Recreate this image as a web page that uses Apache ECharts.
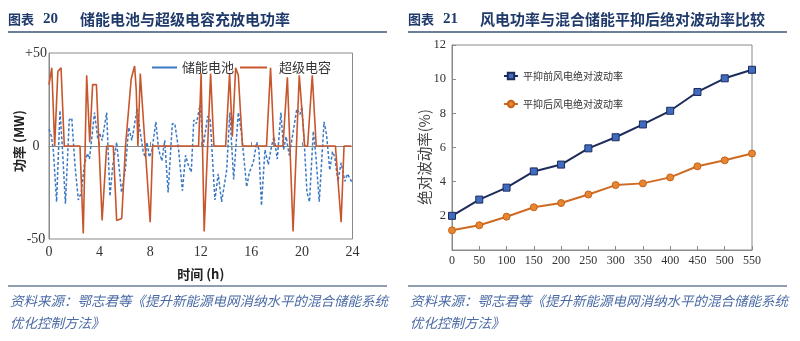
<!DOCTYPE html>
<html><head><meta charset="utf-8">
<script src="https://cdn.jsdelivr.net/npm/echarts@6/dist/echarts.min.js"></script>
<style>html,body{margin:0;padding:0;background:#fff}#c{width:800px;height:341px}</style>
</head><body><div id="c"></div>
<script>
// ---- Left chart data: hour, power (MW) ----
const batteryPower = [
  [0,9],[0.2,5],[0.35,-3],[0.6,-30],[0.87,19],[1.05,0],[1.3,-31],[1.6,14],[1.8,15],[2.05,-10],
  [2.32,-29],[2.55,-25],[2.8,-10],[3.03,-4],[3.2,-7],[3.6,18],[3.85,4],[4.0,7],[4.2,3],[4.56,18],
  [4.82,-27],[5.05,-10],[5.35,2],[5.74,-25],[6.05,-12],[6.3,10],[6.55,3],[6.97,20],[7.2,8],[7.45,-3],
  [7.6,-6],[7.75,2],[7.93,-6],[8.15,-2],[8.45,13],[8.67,-2],[8.93,-8],[9.15,3],[9.42,-25],[9.75,12],
  [9.95,12],[10.25,-2],[10.55,-24],[10.8,-5],[11.0,-10],[11.25,-14],[11.45,14],[11.65,12],[11.95,22],[12.2,0],
  [12.55,16],[12.75,14],[13.12,-29],[13.38,-15],[13.65,-30],[14.05,-13],[14.3,18],[14.6,-18],[14.97,18],[15.2,8],
  [15.35,-2],[15.63,-22],[15.85,-14],[16.15,-9],[16.42,2],[16.6,-2],[16.8,-32],[17.08,-2],[17.34,-10],[17.6,0],
  [17.79,5],[18.05,-7],[18.34,18],[18.55,-2],[18.75,5],[19.0,-5],[19.2,3],[19.6,20],[19.85,17],[20.0,21],
  [20.2,0],[20.4,-25],[20.6,-30],[20.9,8],[21.1,-5],[21.37,-30],[21.75,13],[21.95,6],[22.2,-13],[22.42,-3],
  [22.6,-6],[22.85,-19],[23.1,-9],[23.4,-19],[23.6,-15],[24,-20]
];
const supercapPower = [
  [0,33],[0.22,42],[0.45,0],[0.7,40],[0.95,42],[1.21,0],[2.45,0],[2.71,-47],[2.98,38],[3.22,2],
  [3.45,33],[3.75,33],[4.2,-40],[4.56,0],[5.08,0],[5.35,-40],[5.75,-39],[6.05,0],[6.5,36],[6.77,43],
  [6.9,30],[7.03,0],[7.22,39],[8.0,-41],[8.2,0],[11.83,0],[12.03,39],[12.27,-46],[12.78,39],[13.04,0],
  [13.97,0],[14.28,39],[14.5,5],[14.76,42],[14.97,38],[15.3,0],[17.2,0],[17.52,42],[17.8,0],[18.5,0],
  [18.85,37],[19.3,-46],[19.79,38],[20.22,0],[20.45,0],[20.82,38],[21.13,0],[22.65,0],[23.1,-41],[23.33,0],
  [23.9,0]
];
// ---- Right chart data ----
const windPower = [0,50,100,150,200,250,300,350,400,450,500,550];
const beforeRate = [2.0,2.95,3.65,4.6,5.0,5.95,6.6,7.35,8.15,9.25,10.05,10.55];
const afterRate  = [1.15,1.45,1.95,2.5,2.75,3.25,3.8,3.9,4.25,4.9,5.25,5.65];

const SERIF = "'Liberation Serif','Noto Sans CJK SC',serif";
const CJK = "'Noto Sans CJK SC',sans-serif";
const titleColor = '#1f3a6b';
const footColor = '#4a6aa5';
const footLine1 = '资料来源：鄂志君等《提升新能源电网消纳水平的混合储能系统';
const footLine2 = '优化控制方法》';

function textEl(x, y, txt, size, opts, rot) {
  return {type:'text', x:x, y:y, rotation:rot||0, style:Object.assign({text:txt, fontSize:size, fontFamily:CJK,
    fill:titleColor, verticalAlign:'middle', align:'left'}, opts||{})};
}
function lineEl(x1,y1,x2,y2,w,c){return {type:'line',shape:{x1,y1,x2,y2},style:{stroke:c,lineWidth:w}};}

const chart = echarts.init(document.getElementById('c'), null, {renderer:'canvas'});
chart.setOption({
  animation:false,
  backgroundColor:'#fff',
  graphic:[
    textEl(8,19,'图表',13,{fontWeight:'bold'}),
    textEl(43,19,'20',15,{fontWeight:'bold',fontFamily:SERIF}),
    textEl(80,19,'储能电池与超级电容充放电功率',15,{fontWeight:'bold'}),
    lineEl(8,32,387,32,2,'#6c7e98'),
    textEl(408,19,'图表',13,{fontWeight:'bold'}),
    textEl(443,19,'21',15,{fontWeight:'bold',fontFamily:SERIF}),
    textEl(480,19,'风电功率与混合储能平抑后绝对波动率比较',15,{fontWeight:'bold'}),
    lineEl(408,32,787,32,2,'#6c7e98'),
    lineEl(8,286,387,286,1.5,'#6c7e98'),
    lineEl(408,286,787,286,1.5,'#6c7e98'),
    textEl(10,301,footLine1,13.5,{fill:footColor,fontStyle:'italic'}),
    textEl(10,323,footLine2,13.5,{fill:footColor,fontStyle:'italic'}),
    textEl(410,301,footLine1,13.5,{fill:footColor,fontStyle:'italic'}),
    textEl(410,323,footLine2,13.5,{fill:footColor,fontStyle:'italic'}),
    textEl(19,141,'功率 (MW)',13,{fill:'#222',fontWeight:'bold',align:'center'},Math.PI/2),
    textEl(424,157,'绝对波动率(%)',14.5,{fill:'#444',align:'center'},Math.PI/2)
  ],
  grid:[
    {left:49, top:53, width:303.5, height:186, show:true, borderColor:'#8a8a8a', borderWidth:1},
    {left:452, top:45, width:300, height:205, show:true, borderColor:'#8a8a8a', borderWidth:1}
  ],
  legend:[
    {data:['储能电池'], left:147, top:56, icon:'rect', itemWidth:25, itemHeight:2,
     textStyle:{fontSize:13, color:'#333', fontFamily:CJK}},
    {data:['超级电容'], left:235, top:56, icon:'rect', itemWidth:27, itemHeight:2,
     textStyle:{fontSize:13, color:'#333', fontFamily:CJK, padding:[0,0,0,7]}},
    {data:['平抑前风电绝对波动率','平抑后风电绝对波动率'], orient:'vertical', left:498, top:66, itemGap:18,
     itemWidth:14, itemHeight:8, textStyle:{fontSize:10, color:'#333', fontFamily:CJK}}
  ],
  xAxis:[
    {type:'value', gridIndex:0, min:0, max:24, interval:4,
     axisLine:{lineStyle:{color:'#8a8a8a'}}, axisTick:{inside:true, length:4, lineStyle:{color:'#8a8a8a'}},
     splitLine:{show:false}, axisLabel:{fontSize:14, color:'#333', fontFamily:SERIF, margin:6},
     name:'时间 (h)', nameLocation:'middle', nameGap:29,
     nameTextStyle:{fontSize:13, fontWeight:'bold', color:'#222', fontFamily:CJK}},
    {type:'value', gridIndex:1, min:0, max:550, interval:50,
     axisLine:{lineStyle:{color:'#8a8a8a'}}, axisTick:{inside:true, length:4, lineStyle:{color:'#8a8a8a'}},
     splitLine:{show:false}, axisLabel:{fontSize:12, color:'#333', fontFamily:SERIF, margin:5}}
  ],
  yAxis:[
    {type:'value', gridIndex:0, min:-50, max:50, interval:50,
     axisLine:{show:true, lineStyle:{color:'#8a8a8a'}}, axisTick:{show:false},
     splitLine:{show:false},
     axisLabel:{fontSize:14, color:'#333', fontFamily:SERIF, margin:13, align:'center',
       formatter:v=> v>0 ? '+'+v : String(v)}},
    {type:'value', gridIndex:1, min:0, max:12, interval:2,
     axisLine:{show:true, lineStyle:{color:'#8a8a8a'}}, axisTick:{show:true, inside:true, length:4, lineStyle:{color:'#8a8a8a'}},
     splitLine:{show:false},
     axisLabel:{fontSize:12.5, color:'#333', fontFamily:SERIF, margin:6, showMinLabel:false}}
  ],
  series:[
    {name:'储能电池', type:'line', xAxisIndex:0, yAxisIndex:0, data:batteryPower, symbol:'none', z:2,
     itemStyle:{color:'#3b78c2'}, lineStyle:{color:'#3b78c2', width:1.5, type:[3,2]}},
    {name:'超级电容', type:'line', xAxisIndex:0, yAxisIndex:0, data:supercapPower, symbol:'none', z:3,
     itemStyle:{color:'#c8562c'}, lineStyle:{color:'#c8562c', width:1.6}},
    {name:'平抑前风电绝对波动率', type:'line', xAxisIndex:1, yAxisIndex:1,
     data:windPower.map((x,i)=>[x,beforeRate[i]]), symbol:'rect', symbolSize:7,
     itemStyle:{color:'#3f6cc0', borderColor:'#1c2b5a', borderWidth:1}, lineStyle:{color:'#1c2b5a', width:2}},
    {name:'平抑后风电绝对波动率', type:'line', xAxisIndex:1, yAxisIndex:1,
     data:windPower.map((x,i)=>[x,afterRate[i]]), symbol:'circle', symbolSize:7,
     itemStyle:{color:'#e8852f', borderColor:'#c4621d', borderWidth:1}, lineStyle:{color:'#cf6a22', width:2}}
  ]
});
</script></body></html>
